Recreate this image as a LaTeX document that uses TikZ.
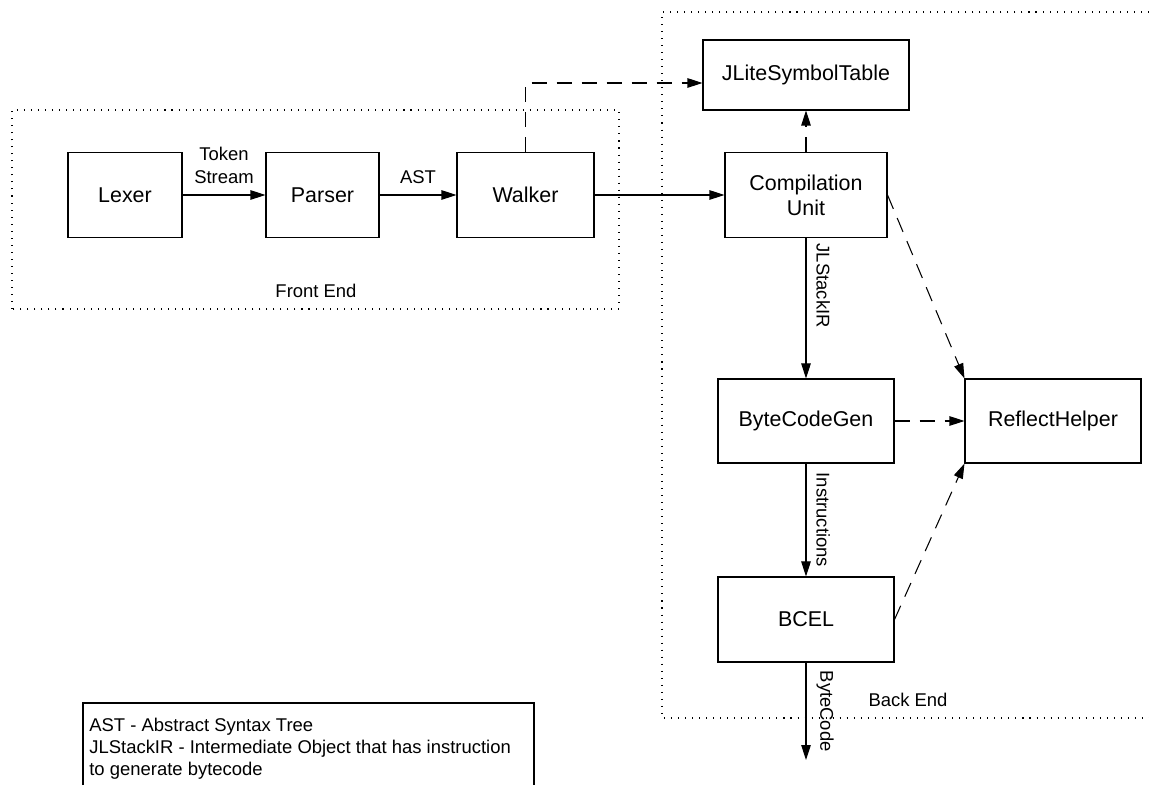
\documentclass[tikz,border=0pt]{standalone}
\usepackage{fontspec}
\setmainfont{Liberation Sans}
\usetikzlibrary{arrows.meta}

\newcommand{\boxfont}{\fontsize{12.2}{14.2}\selectfont}
\newcommand{\lblfont}{\fontsize{10.5}{13}\selectfont}
\newcommand{\notefont}{\fontsize{10.5}{12.5}\selectfont}

\begin{document}
\begin{tikzpicture}[
	block/.style={draw, line width=0.6pt, minimum width=#1, minimum height=1.7cm, inner sep=0pt, align=center, font=\boxfont},
	flow/.style={line width=0.6pt, -{Triangle[length=0.3cm,width=0.19cm]}},
	dep/.style={flow, dash pattern=on 0.3cm off 0.2cm},
	stage/.style={line width=0.6pt, dash pattern=on 0.6pt off 3.4pt},
	lbl/.style={font=\lblfont, align=center},
	vlbl/.style={font=\lblfont, rotate=-90, anchor=south, inner sep=0.2cm}
	]
	
		%%page
		\useasboundingbox (0,0) rectangle (22.98,15.7);
		
		%%stage frames
		\draw[stage] (0.24,9.52) rectangle (12.38,13.5);
		\draw[stage] (22.98,15.46) -- (13.24,15.46) -- (13.24,1.34) -- (22.98,1.34);
		\node[lbl] (fe) at (6.32,9.88) {Front End};
		\node[lbl] (be) at (18.16,1.7) {Back End};
		
		%%front end
		\node[block=2.28cm] (lexer) at (2.50,11.8) {Lexer};
		\node[block=2.26cm] (parser) at (6.45,11.8) {Parser};
		\node[block=2.74cm] (walker) at (10.51,11.8) {Walker};
		
		%%back end
		\node[block=4.12cm, minimum height=1.4cm] (symtab) at (16.12,14.2) {JLiteSymbolTable};
		\node[block=3.24cm] (cunit) at (16.12,11.8) {Compilation\\Unit};
		\node[block=3.52cm, minimum height=1.68cm] (bcgen) at (16.12,7.28) {ByteCodeGen};
		\node[block=3.52cm, minimum height=1.68cm] (reflect) at (21.06,7.28) {ReflectHelper};
		\node[block=3.52cm] (bcel) at (16.12,3.31) {BCEL};
		\coordinate (out) at (16.12,0.5);
		
		%%data flow
		\draw[flow] (lexer) -- (parser) node[lbl, midway, above=3pt] (tok) {Token\\Stream};
		\draw[flow] (parser) -- (walker) node[lbl, midway, above=3pt] (ast) {AST};
		\draw[flow] (walker) -- (cunit);
		\draw[flow] (cunit) -- (bcgen) node[vlbl, pos=0.34] (ir) {JLStackIR};
		\draw[flow] (bcgen) -- (bcel) node[vlbl, pos=0.5] (ins) {Instructions};
		\draw[flow] (bcel) -- (out) node[vlbl, pos=0.5] (bc) {ByteCode};
		
		%%uses
		\draw[dep] (walker.north) |- ([yshift=-0.16cm]symtab.west);
		\draw[dep] (cunit) -- (symtab);
		\draw[dep] (cunit.east) -- (reflect.north west);
		\draw[dep] (bcgen) -- (reflect);
		\draw[dep] (bcel.east) -- (reflect.south west);
		
		%%legend
		\draw[line width=0.6pt] (1.66,0) -- (1.66,1.64) -- (10.68,1.64) -- (10.68,0);
		\node[font=\notefont, align=left, anchor=north west, inner sep=0pt] (legend) at (1.78,1.34) {AST - Abstract Syntax Tree\\JLStackIR - Intermediate Object that has instruction\\to generate bytecode};
	\end{tikzpicture}
\end{document}
